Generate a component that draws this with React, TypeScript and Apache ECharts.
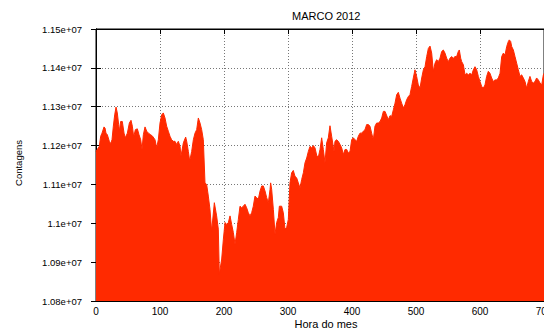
import React, { useEffect, useRef } from "react";
import * as echarts from "echarts";

const hours = [
  0, 5.2, 7.3, 9.4, 12.5, 14.1, 15.6, 17.7, 20.8, 22.9, 25.0, 27.1, 29.2, 31.3, 33.3, 35.4, 36.5, 38.5, 41.1, 43.8,
  45.8, 49.0, 52.1, 54.7, 56.8, 58.9, 61.5, 64.6, 67.2, 69.8, 71.9, 74.0, 76.6, 79.2, 81.8, 85.4, 88.5, 92.2, 94.8, 97.4,
  100.0, 102.6, 105.2, 107.8, 110.4, 113.0, 115.6, 118.2, 120.8, 123.4, 126.0, 128.6, 131.3, 132.8, 136.5, 140.1, 141.7, 144.3, 146.4, 149.5,
  152.1, 154.7, 157.3, 159.9, 162.5, 165.1, 167.7, 170.3, 172.9, 175.5, 178.1, 180.7, 184.9, 185.9, 188.5, 191.1, 192.7, 196.4, 199.0, 201.6,
  204.2, 206.8, 209.4, 212.0, 214.6, 217.2, 219.8, 222.4, 225.0, 227.6, 230.2, 232.8, 235.4, 238.0, 240.6, 243.2, 245.8, 248.4, 251.0, 253.6,
  256.3, 258.9, 261.5, 264.1, 266.7, 269.3, 271.9, 272.9, 274.5, 277.1, 279.7, 282.3, 284.9, 286.5, 290.1, 292.7, 295.3, 297.9, 300.5, 303.1,
  305.7, 308.3, 310.9, 313.5, 316.1, 318.8, 321.4, 324.0, 326.6, 329.2, 331.8, 334.4, 337.0, 339.6, 342.2, 344.8, 347.4, 350.0, 352.6, 355.2,
  357.8, 360.4, 363.0, 365.6, 368.2, 371.9, 373.4, 376.0, 378.6, 381.3, 383.9, 386.5, 389.1, 391.7, 394.3, 396.9, 399.5, 402.1, 404.7, 407.3,
  409.9, 412.5, 415.1, 417.7, 420.3, 422.9, 425.5, 428.1, 430.7, 433.3, 435.9, 438.5, 441.1, 443.8, 446.4, 449.0, 451.6, 455.7, 456.8, 459.4,
  462.0, 464.6, 467.2, 469.8, 472.4, 475.0, 477.6, 480.2, 482.8, 485.4, 488.0, 490.6, 493.2, 495.8, 498.4, 501.0, 503.6, 506.3, 508.9, 511.5,
  514.1, 516.7, 519.3, 521.9, 524.5, 527.1, 529.7, 532.3, 534.9, 537.5, 540.1, 542.7, 545.3, 547.9, 550.5, 553.1, 555.7, 558.3, 560.9, 563.5,
  566.1, 567.7, 569.8, 571.4, 574.0, 576.6, 579.2, 581.8, 584.4, 587.0, 589.6, 592.2, 594.8, 597.4, 600.0, 602.6, 605.2, 607.8, 610.4, 613.0,
  615.6, 618.2, 620.8, 623.4, 626.0, 628.6, 631.3, 633.9, 636.5, 639.1, 641.7, 644.3, 645.8, 647.9, 649.5, 652.1, 654.7, 657.3, 659.9, 662.5,
  665.1, 667.7, 670.3, 672.9, 675.5, 678.1, 680.7, 683.3, 685.9, 688.5, 691.1, 693.8, 696.4, 699.0, 700.0,
];

const counts = [
  11185000, 11198000, 11224000, 11232000, 11248000, 11245000, 11232000, 11228000, 11211000, 11205000, 11215000, 11250000, 11279000, 11299000, 11284000, 11254000, 11237000, 11262000, 11262000, 11232000,
  11220000, 11232000, 11258000, 11265000, 11250000, 11222000, 11241000, 11243000, 11228000, 11215000, 11190000, 11228000, 11248000, 11237000, 11232000, 11228000, 11224000, 11215000, 11194000, 11215000,
  11258000, 11279000, 11284000, 11271000, 11250000, 11237000, 11224000, 11215000, 11211000, 11211000, 11203000, 11211000, 11198000, 11173000, 11207000, 11222000, 11211000, 11185000, 11160000, 11185000,
  11215000, 11232000, 11241000, 11271000, 11258000, 11241000, 11215000, 11104000, 11100000, 11070000, 11036000, 10980000, 11053000, 11053000, 11019000, 10985000, 10869000, 10908000, 10959000, 11002000,
  10997000, 11002000, 11019000, 10997000, 10976000, 10946000, 10976000, 11010000, 11044000, 11040000, 11044000, 11049000, 11040000, 11027000, 11019000, 11027000, 11044000, 11070000, 11066000, 11062000,
  11083000, 11096000, 11096000, 11083000, 11066000, 11053000, 11087000, 11104000, 11087000, 11036000, 10972000, 11002000, 11015000, 11044000, 11044000, 11027000, 10985000, 10989000, 11010000, 11104000,
  11130000, 11136000, 11121000, 11117000, 11104000, 11091000, 11113000, 11130000, 11156000, 11168000, 11185000, 11198000, 11194000, 11200000, 11194000, 11175000, 11170000, 11190000, 11220000, 11190000,
  11156000, 11207000, 11220000, 11251000, 11224000, 11185000, 11211000, 11215000, 11211000, 11203000, 11194000, 11177000, 11190000, 11190000, 11181000, 11185000, 11215000, 11220000, 11215000, 11211000,
  11224000, 11232000, 11232000, 11237000, 11241000, 11254000, 11254000, 11250000, 11232000, 11215000, 11250000, 11258000, 11258000, 11262000, 11271000, 11288000, 11288000, 11271000, 11267000, 11277000,
  11275000, 11292000, 11309000, 11331000, 11337000, 11322000, 11309000, 11297000, 11305000, 11318000, 11326000, 11331000, 11352000, 11374000, 11395000, 11378000, 11356000, 11348000, 11374000, 11395000,
  11403000, 11429000, 11450000, 11456000, 11438000, 11391000, 11412000, 11421000, 11416000, 11425000, 11442000, 11446000, 11438000, 11425000, 11416000, 11425000, 11429000, 11425000, 11429000, 11429000,
  11442000, 11446000, 11425000, 11416000, 11408000, 11382000, 11386000, 11382000, 11386000, 11382000, 11395000, 11403000, 11395000, 11378000, 11365000, 11352000, 11348000, 11356000, 11378000, 11391000,
  11386000, 11374000, 11365000, 11369000, 11369000, 11374000, 11386000, 11429000, 11438000, 11433000, 11455000, 11468000, 11472000, 11468000, 11455000, 11446000, 11429000, 11412000, 11395000, 11378000,
  11382000, 11374000, 11365000, 11348000, 11365000, 11378000, 11365000, 11361000, 11365000, 11374000, 11369000, 11361000, 11356000, 11382000, 11386000,
];

const titleText = "MARCO 2012";
const xName = "Hora do mes";
const yName = "Contagens";

const fontFamily = "'Liberation Sans', Arial, Helvetica, sans-serif";
const fillColor = "#ff2a00";

function yLabel(v: number): string {
  const m = parseFloat((v / 1e7).toFixed(3));
  return m + "e+07";
}

export default function App() {
  const ref = useRef<HTMLDivElement>(null);

  useEffect(() => {
    if (!ref.current) return;
    const chart = echarts.init(ref.current, null, { renderer: "svg" });
    const data = hours.map((h, i) => [h, counts[i]]);
    const grid = {
      left: 96,
      top: 29,
      width: 448,
      height: 272,
      containLabel: false,
      outerBoundsMode: "none",
      show: true,
      borderColor: "#000",
      borderWidth: 1,
      backgroundColor: "transparent",
    };
    const split = { show: true, lineStyle: { color: "#777", type: [1, 2], width: 1 } };
    chart.setOption({
      animation: false,
      backgroundColor: "#fff",
      title: {
        text: titleText,
        left: 292,
        top: 10,
        padding: 0,
        textStyle: { fontFamily, fontSize: 11, fontWeight: "normal", color: "#000" },
      },
      grid,
      xAxis: [
        {
          type: "value",
          min: 0,
          max: 700,
          interval: 100,
          position: "bottom",
          axisLine: { show: true, lineStyle: { color: "#000", width: 1 } },
          axisTick: { show: true, inside: true, length: 5, lineStyle: { color: "#000" } },
          axisLabel: { show: true, margin: 5, fontFamily, fontSize: 10, color: "#000", hideOverlap: false },
          splitLine: split,
        },
        {
          type: "value",
          min: 0,
          max: 700,
          interval: 100,
          position: "top",
          axisLine: { show: true, lineStyle: { color: "#000", width: 1 } },
          axisTick: { show: true, inside: true, length: 5, lineStyle: { color: "#000" } },
          axisLabel: { show: false },
          splitLine: { show: false },
        },
      ],
      yAxis: [
        {
          type: "value",
          min: 10800000,
          max: 11500000,
          interval: 100000,
          position: "left",
          axisLine: { show: true, lineStyle: { color: "#000", width: 1 } },
          axisTick: { show: true, inside: true, length: 5, lineStyle: { color: "#000" } },
          axisLabel: { show: true, margin: 14, fontFamily, fontSize: 9.5, color: "#000", formatter: yLabel },
          splitLine: split,
        },
        {
          type: "value",
          min: 10800000,
          max: 11500000,
          interval: 100000,
          position: "right",
          axisLine: { show: true, lineStyle: { color: "#000", width: 1 } },
          axisTick: { show: true, inside: true, length: 5, lineStyle: { color: "#000" } },
          axisLabel: { show: false },
          splitLine: { show: false },
        },
      ],
      graphic: [
        {
          type: "text",
          x: 326,
          y: 324,
          style: {
            text: xName,
            fontFamily,
            fontSize: 11,
            fill: "#000",
            textAlign: "center",
            textVerticalAlign: "middle",
          },
        },
        {
          type: "text",
          x: 18.5,
          y: 163,
          rotation: Math.PI / 2,
          style: {
            text: yName,
            fontFamily,
            fontSize: 9.5,
            fill: "#000",
            textAlign: "center",
            textVerticalAlign: "middle",
          },
        },
      ],
      series: [
        {
          type: "line",
          xAxisIndex: 0,
          yAxisIndex: 0,
          data,
          showSymbol: false,
          symbol: "none",
          lineStyle: { color: fillColor, width: 1 },
          areaStyle: { color: fillColor, opacity: 1, origin: "start" },
          z: 1,
        },
      ],
    });
    return () => chart.dispose();
  }, []);

  return (
    <div
      ref={ref}
      style={{ position: "absolute", left: 0, top: 0, width: 544, height: 329, background: "#fff" }}
    />
  );
}
